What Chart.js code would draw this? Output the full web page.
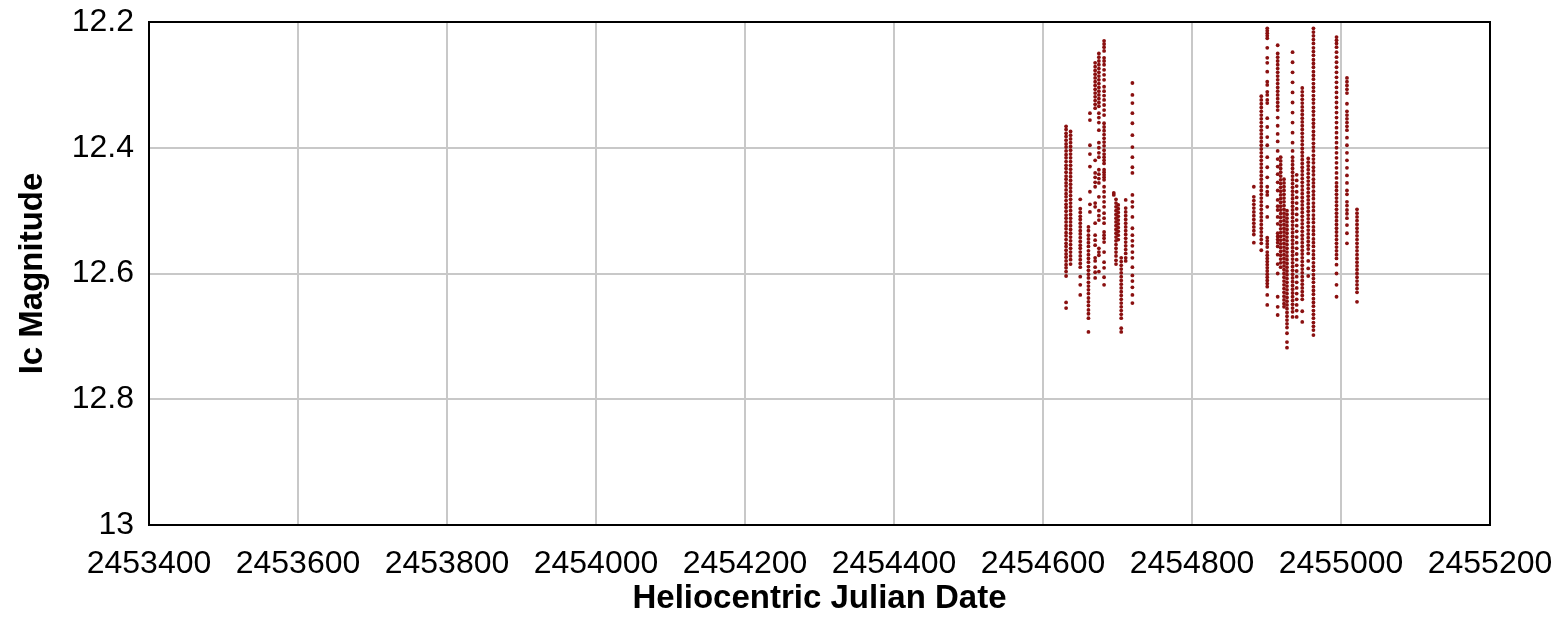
<!DOCTYPE html>
<html>
<head>
<meta charset="utf-8">
<script src="https://cdn.jsdelivr.net/npm/chart.js@4/dist/chart.umd.min.js"></script>
<style>
	html, body { margin: 0; padding: 0; background: #fff; }
</style>
</head>
<body>
<canvas id="lc" width="1564" height="617"></canvas>
<script>
// observing nights (HJD) and the Ic magnitudes
const season2008HJD = [2454631, 2454637, 2454650, 2454663, 2454661, 2454670, 2454675, 2454682, 2454695, 2454698, 2454701, 2454705, 2454711, 2454720]
const season2008Mags = [
	[12.366,12.371,12.377,12.382,12.388,12.394,12.399,12.405,12.411,12.416,12.422,12.428,12.433,12.439,12.445,12.45,12.456,12.461,12.467,12.473,12.478,12.484,12.49,12.495,12.501,12.507,12.512,12.518,12.524,12.529,12.535,12.54,12.546,12.552,12.557,12.563,12.569,12.574,12.58,12.586,12.591,12.597,12.604,12.646,12.655],
	[12.374,12.38,12.386,12.392,12.398,12.404,12.41,12.416,12.422,12.428,12.434,12.44,12.446,12.452,12.458,12.464,12.47,12.476,12.482,12.488,12.494,12.5,12.506,12.512,12.518,12.524,12.53,12.536,12.542,12.548,12.554,12.56,12.566,12.572,12.578,12.585],
	[12.482,12.497,12.503,12.509,12.514,12.52,12.526,12.532,12.537,12.543,12.549,12.555,12.56,12.566,12.572,12.578,12.584,12.59,12.605,12.618,12.634],
	[12.345,12.356,12.396,12.41,12.43,12.47,12.49,12.502],
	[12.526,12.532,12.539,12.545,12.551,12.557,12.564,12.57,12.576,12.582,12.589,12.595,12.601,12.607,12.614,12.62,12.626,12.632,12.639,12.645,12.651,12.658,12.664,12.671,12.693],
	[12.265,12.271,12.277,12.283,12.289,12.295,12.301,12.307,12.313,12.319,12.325,12.331,12.337,12.42,12.44,12.447,12.455,12.462,12.488,12.494,12.52,12.539,12.547,12.555,12.575,12.58,12.59,12.598,12.607],
	[12.25,12.256,12.262,12.268,12.274,12.28,12.286,12.292,12.298,12.304,12.31,12.316,12.322,12.328,12.334,12.345,12.352,12.36,12.372,12.392,12.4,12.408,12.415,12.435,12.442,12.449,12.456,12.478,12.5,12.508,12.515,12.56,12.566,12.571,12.597],
	[12.23,12.235,12.24,12.246,12.257,12.262,12.268,12.276,12.284,12.292,12.303,12.31,12.317,12.324,12.332,12.34,12.348,12.361,12.367,12.373,12.379,12.385,12.391,12.397,12.404,12.41,12.415,12.42,12.425,12.435,12.439,12.443,12.447,12.451,12.462,12.47,12.478,12.486,12.494,12.504,12.512,12.52,12.534,12.539,12.544,12.55,12.566,12.582,12.591,12.606,12.618],
	[12.472,12.475],
	[12.482,12.488,12.494,12.5,12.506,12.512,12.518,12.524,12.53,12.536,12.542,12.548,12.554,12.56,12.566,12.572,12.579,12.585],
	[12.491,12.497,12.503,12.509,12.515,12.521,12.527,12.533,12.539,12.546],
	[12.575,12.581,12.587,12.593,12.599,12.605,12.611,12.617,12.623,12.629,12.635,12.641,12.647,12.653,12.659,12.665,12.671,12.687,12.693],
	[12.483,12.496,12.502,12.508,12.514,12.52,12.526,12.532,12.538,12.544,12.55,12.556,12.562,12.568,12.575,12.58],
	[12.297,12.316,12.329,12.345,12.361,12.38,12.399,12.415,12.431,12.44,12.475,12.486,12.494,12.51,12.528,12.539,12.548,12.556,12.566,12.575,12.59,12.603,12.612,12.622,12.634,12.647]
]

const season2009HJD = [2454883, 2454893, 2454901, 2454915, 2454919, 2454923.5, 2454927.5, 2454935, 2454940.5, 2454948, 2454956, 2454963, 2454994, 2455008, 2455021.5]
const season2009Mags = [
	[12.462,12.478,12.484,12.49,12.496,12.502,12.508,12.514,12.52,12.526,12.532,12.538,12.551],
	[12.318,12.324,12.33,12.336,12.342,12.348,12.354,12.36,12.366,12.372,12.378,12.384,12.39,12.396,12.402,12.408,12.414,12.42,12.426,12.432,12.438,12.444,12.45,12.456,12.462,12.468,12.474,12.48,12.486,12.492,12.498,12.504,12.51,12.516,12.522,12.528,12.534,12.54,12.546,12.552,12.563],
	[12.21,12.214,12.218,12.222,12.226,12.241,12.257,12.265,12.279,12.295,12.3,12.311,12.316,12.324,12.329,12.353,12.367,12.383,12.396,12.415,12.431,12.447,12.462,12.47,12.475,12.494,12.51,12.543,12.548,12.553,12.558,12.566,12.571,12.576,12.581,12.586,12.591,12.596,12.601,12.606,12.611,12.616,12.621,12.634,12.65],
	[12.237,12.25,12.256,12.262,12.268,12.274,12.28,12.286,12.292,12.298,12.304,12.31,12.316,12.322,12.328,12.334,12.34,12.352,12.365,12.378,12.39,12.405,12.418,12.43,12.442,12.455,12.468,12.483,12.493,12.499,12.51,12.521,12.536,12.541,12.546,12.551,12.557,12.57,12.585,12.6,12.637,12.653,12.666],
	[12.415,12.421,12.427,12.433,12.439,12.445,12.451,12.457,12.463,12.469,12.475,12.481,12.487,12.493,12.499,12.505,12.511,12.517,12.523,12.529,12.535,12.541,12.547,12.553,12.559,12.565,12.571,12.577,12.583,12.59],
	[12.45,12.456,12.462,12.468,12.474,12.48,12.486,12.492,12.498,12.504,12.51,12.516,12.522,12.528,12.534,12.54,12.546,12.552,12.558,12.564,12.57,12.576,12.582,12.588,12.594,12.6,12.606,12.612,12.618,12.624,12.63,12.636,12.642,12.648,12.653],
	[12.5,12.506,12.512,12.518,12.524,12.53,12.536,12.542,12.548,12.554,12.56,12.566,12.572,12.578,12.584,12.59,12.596,12.602,12.608,12.614,12.62,12.626,12.632,12.638,12.644,12.65,12.656,12.662,12.668,12.674,12.68,12.686,12.695,12.709,12.718],
	[12.248,12.264,12.28,12.296,12.312,12.328,12.344,12.36,12.376,12.392,12.405,12.415,12.421,12.427,12.433,12.439,12.445,12.451,12.457,12.463,12.469,12.475,12.481,12.487,12.493,12.499,12.505,12.511,12.517,12.523,12.529,12.535,12.541,12.547,12.553,12.559,12.565,12.571,12.577,12.583,12.589,12.595,12.601,12.607,12.613,12.619,12.625,12.631,12.637,12.643,12.649,12.655,12.661,12.669],
	[12.443,12.452,12.461,12.47,12.479,12.488,12.497,12.506,12.515,12.524,12.533,12.542,12.551,12.56,12.569,12.578,12.587,12.596,12.605,12.614,12.623,12.632,12.641,12.65,12.659,12.669],
	[12.305,12.311,12.317,12.323,12.329,12.335,12.341,12.347,12.353,12.359,12.365,12.371,12.377,12.383,12.389,12.395,12.401,12.407,12.413,12.419,12.425,12.431,12.437,12.443,12.449,12.455,12.461,12.467,12.473,12.479,12.485,12.491,12.497,12.503,12.509,12.515,12.521,12.527,12.533,12.539,12.545,12.551,12.557,12.563,12.569,12.575,12.581,12.587,12.593,12.599,12.605,12.611,12.617,12.623,12.629,12.635,12.641,12.66,12.677],
	[12.417,12.423,12.429,12.435,12.441,12.447,12.453,12.459,12.465,12.471,12.477,12.483,12.489,12.495,12.501,12.507,12.513,12.519,12.525,12.531,12.537,12.543,12.549,12.555,12.561,12.568,12.58,12.592,12.604],
	[12.21,12.216,12.222,12.228,12.234,12.241,12.247,12.253,12.26,12.266,12.272,12.279,12.285,12.291,12.298,12.304,12.31,12.317,12.323,12.329,12.336,12.342,12.348,12.355,12.361,12.367,12.374,12.38,12.386,12.393,12.399,12.405,12.412,12.418,12.424,12.431,12.437,12.443,12.45,12.456,12.462,12.469,12.475,12.481,12.488,12.494,12.5,12.507,12.513,12.519,12.526,12.532,12.538,12.545,12.551,12.557,12.564,12.57,12.576,12.583,12.589,12.595,12.602,12.608,12.614,12.621,12.627,12.633,12.64,12.646,12.652,12.659,12.665,12.671,12.678,12.684,12.69,12.698],
	[12.224,12.229,12.234,12.24,12.248,12.256,12.264,12.272,12.28,12.288,12.296,12.304,12.312,12.32,12.328,12.336,12.344,12.352,12.36,12.368,12.376,12.384,12.392,12.4,12.408,12.416,12.424,12.432,12.44,12.448,12.456,12.462,12.468,12.474,12.48,12.486,12.492,12.498,12.504,12.51,12.516,12.522,12.528,12.534,12.54,12.546,12.552,12.558,12.564,12.57,12.576,12.586,12.6,12.618,12.637],
	[12.289,12.295,12.301,12.307,12.313,12.33,12.342,12.348,12.354,12.36,12.366,12.372,12.384,12.396,12.408,12.42,12.432,12.444,12.456,12.468,12.474,12.486,12.492,12.499,12.505,12.512,12.523,12.536,12.552],
	[12.498,12.504,12.51,12.516,12.522,12.528,12.534,12.54,12.546,12.552,12.558,12.564,12.57,12.576,12.582,12.588,12.594,12.6,12.606,12.612,12.618,12.624,12.63,12.645]
]

const xTicks = [2453400, 2453600, 2453800, 2454000, 2454200, 2454400, 2454600, 2454800, 2455000, 2455200]
const yTicks = [12.2, 12.4, 12.6, 12.8, 13]

function toPoints(hjd, mags) {
	const pts = []
	hjd.forEach((x, i) => {
		mags[i].forEach((y) => pts.push({ x, y }))
	})
	return pts
}

const points = toPoints(season2008HJD, season2008Mags).concat(toPoints(season2009HJD, season2009Mags))

const frameBox = {
	id: 'frameBox',
	afterDraw(chart) {
		const { ctx, chartArea: a } = chart
		ctx.save()
		ctx.strokeStyle = '#000'
		ctx.lineWidth = 2
		ctx.strokeRect(a.left, a.top, a.right - a.left, a.bottom - a.top)
		ctx.restore()
	}
}

Chart.defaults.font.family = '"Liberation Sans", Arial, sans-serif'
Chart.defaults.color = '#000'

new Chart(document.getElementById('lc').getContext('2d'), {
	type: 'scatter',
	data: {
		datasets: [
			{
				data: points,
				pointRadius: 1.9,
				pointBorderWidth: 0,
				pointBackgroundColor: '#8a1010'
			}
		]
	},
	options: {
		responsive: false,
		animation: false,
		layout: { padding: { top: 22, right: 74, left: 0, bottom: 0 } },
		plugins: {
			legend: { display: false },
			tooltip: { enabled: false }
		},
		scales: {
			x: {
				type: 'linear',
				min: xTicks[0],
				max: xTicks[xTicks.length - 1],
				afterBuildTicks: (scale) => { scale.ticks = xTicks.map((v) => ({ value: v })) },
				afterFit: (scale) => {
					scale.height = 92
					scale.paddingLeft = 0
					scale.paddingRight = 0
				},
				ticks: {
					font: { size: 32 },
					padding: 20,
					maxRotation: 0,
					autoSkip: false,
					callback: (v) => String(v)
				},
				grid: { color: '#c8c8c8', lineWidth: 2, drawTicks: false },
				border: { color: '#000', width: 2 },
				title: {
					display: true,
					text: 'Heliocentric Julian Date',
					font: { size: 33, weight: 'bold', lineHeight: 1 },
					padding: { top: 0, bottom: 2 }
				}
			},
			y: {
				reverse: true,
				min: yTicks[0],
				max: yTicks[yTicks.length - 1],
				afterBuildTicks: (scale) => { scale.ticks = yTicks.map((v) => ({ value: v })) },
				afterFit: (scale) => {
					scale.width = 149
					scale.paddingTop = 0
					scale.paddingBottom = 0
				},
				ticks: {
					font: { size: 32 },
					padding: 15,
					callback: (v) => String(+Number(v).toFixed(1))
				},
				grid: { color: '#c8c8c8', lineWidth: 2, drawTicks: false },
				border: { color: '#000', width: 2 },
				title: {
					display: true,
					text: 'Ic Magnitude',
					font: { size: 33, weight: 'bold', lineHeight: 1 },
					padding: { top: 16, bottom: 0 }
				}
			}
		}
	},
	plugins: [frameBox]
})
</script>
</body>
</html>
